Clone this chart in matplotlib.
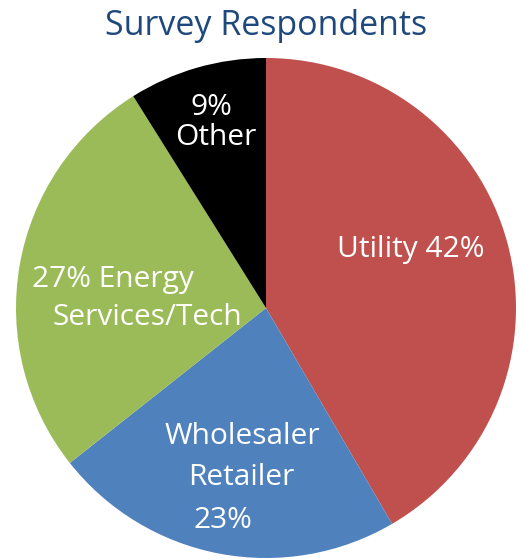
import matplotlib
matplotlib.use("Agg")
import matplotlib.pyplot as plt

categories = ["Utility", "Wholesaler Retailer", "Energy Services/Tech", "Other"]
values = [42, 23, 27, 9]
colors = ["#C0504D", "#4F81BD", "#9BBB59", "#000000"]
label_lines = [["Utility 42%"], ["Wholesaler", "Retailer", "23%"],
               ["27% Energy", "Services/Tech"], ["9%", "Other"]]
title = "Survey Respondents"

# layout: (center x, baseline y) in pixel coordinates, per line
line_pos = [[(411, 257)], [(242, 444), (241, 485), (223, 528)],
            [(113, 287), (147, 325)], [(211, 115), (216, 145)]]

W, H = 519, 559
fig = plt.figure(figsize=(W / 100, H / 100), dpi=100)
ax = fig.add_axes([0, 0, 1, 1])


def Y(yp):
    return H - yp


cx, cy, r = 266, 308, 250
ax.pie(values, colors=colors, startangle=90, counterclock=False,
       center=(cx, Y(cy)), radius=r, frame=True,
       wedgeprops=dict(linewidth=0))
ax.set_xlim(0, W)
ax.set_ylim(0, H)
ax.set_aspect("equal")
ax.axis("off")

fam = ["Open Sans", "DejaVu Sans"]
ax.text(266, Y(35), title, ha="center", va="baseline", fontsize=24.5,
        color="#1F497D", family=fam)

fs = 21.5
for lines, poss in zip(label_lines, line_pos):
    for txt, (x, yb) in zip(lines, poss):
        ax.text(x, Y(yb), txt, ha="center", va="baseline", fontsize=fs,
                color="white", family=fam)

fig.savefig("out.png", dpi=100)
